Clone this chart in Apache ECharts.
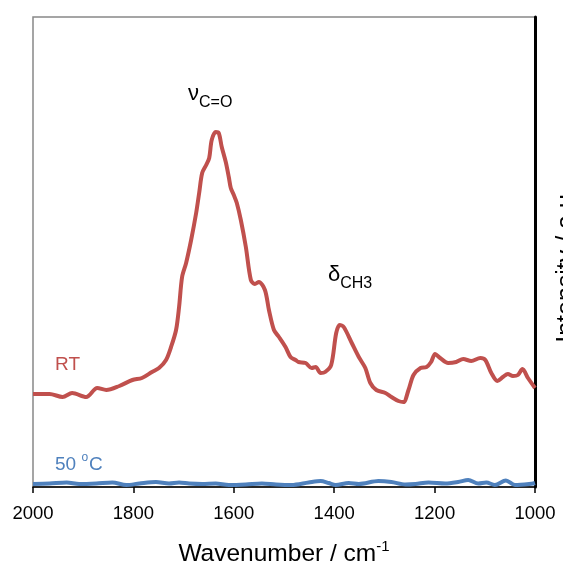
<!DOCTYPE html>
<html>
<head>
<meta charset="utf-8">
<script src="https://cdn.jsdelivr.net/npm/echarts@6/dist/echarts.min.js"></script>
<style>
  html, body { margin: 0; padding: 0; background: #fff; }
  #chart { width: 563px; height: 569px; }
</style>
</head>
<body>
<div id="chart"></div>
<script>
// RT spectrum (wavenumber / cm-1, intensity a.u.)
var rtWavenumber = [2000, 1967, 1941, 1922, 1894, 1872, 1854, 1828, 1802, 1783, 1763, 1749, 1735, 1725, 1715, 1709, 1703, 1695, 1685, 1675, 1669, 1663, 1655, 1649, 1644, 1636, 1630, 1624, 1616, 1610, 1606, 1600, 1594, 1586, 1576, 1566, 1558, 1550, 1538, 1530, 1520, 1510, 1497, 1487, 1477, 1471, 1457, 1445, 1437, 1427, 1418, 1406, 1396, 1389, 1381, 1365, 1351, 1338, 1328, 1316, 1298, 1286, 1272, 1262, 1252, 1242, 1228, 1216, 1207, 1199, 1189, 1173, 1157, 1143, 1127, 1109, 1099, 1087, 1075, 1064, 1054, 1044, 1034, 1025, 1014, 1000];
var rtIntensity = [93, 93, 90, 94, 90, 99, 97, 101, 107, 109, 115, 119, 127, 140, 157, 180, 210, 224, 247, 274, 294, 314, 322, 329, 347, 355, 354, 340, 325, 310, 299, 292, 284, 267, 240, 207, 203, 205, 197, 177, 157, 150, 140, 130, 127, 125, 124, 119, 120, 114, 115, 122, 154, 162, 160, 144, 130, 119, 104, 97, 94, 90, 86, 85, 97, 112, 119, 120, 125, 133, 129, 124, 125, 128, 126, 129, 127, 114, 106, 110, 113, 111, 112, 118, 109, 99];

// 50 oC spectrum
var hotWavenumber = [2000, 1967, 1933, 1908, 1874, 1842, 1814, 1788, 1755, 1729, 1709, 1689, 1663, 1636, 1610, 1576, 1544, 1516, 1485, 1451, 1427, 1411, 1397, 1371, 1351, 1312, 1286, 1258, 1238, 1212, 1179, 1153, 1133, 1113, 1097, 1080, 1058, 1040, 1004, 1000];
var hotIntensity = [3, 3.5, 4.5, 3, 3.5, 4.5, 2, 3.5, 5, 3.5, 4.5, 3.5, 3, 3.5, 2, 2.5, 3.5, 2.5, 2, 4.5, 6, 4, 2, 4, 3, 6, 5, 2.5, 3, 4.5, 3.5, 5, 7, 3.5, 4.5, 2, 6.5, 2, 3.5, 4];

var xTicks = [1000, 2000, 200];

function zip(xs, ys) {
  var out = [];
  for (var i = 0; i < xs.length; i++) out.push([xs[i], ys[i]]);
  return out;
}

var red = '#c0504d';
var blue = '#4f81bd';
var font = 'Liberation Sans';

var chart = echarts.init(document.getElementById('chart'));
var option = {
  animation: false,
  textStyle: { fontFamily: font },
  grid: {
    left: 33, right: 28, top: 17, bottom: 82,
    outerBoundsMode: 'none',
    show: true, borderColor: '#888', borderWidth: 1.5
  },
  xAxis: {
    type: 'value',
    min: xTicks[0], max: xTicks[1], interval: xTicks[2],
    inverse: true,
    axisLine: { lineStyle: { color: '#000', width: 1.5 } },
    axisTick: { show: true, length: 6, lineStyle: { color: '#000', width: 1.5 } },
    axisLabel: {
      color: '#000', fontSize: 18.5, margin: 17, fontFamily: font,
      formatter: function (v) { return String(v); }
    },
    splitLine: { show: false },
    name: '{t|Wavenumber / cm}{s|-1}',
    nameLocation: 'middle',
    nameGap: 52,
    nameTextStyle: {
      rich: {
        t: { fontSize: 24.5, color: '#000', fontFamily: font, lineHeight: 28, verticalAlign: 'bottom' },
        s: { fontSize: 15, color: '#000', fontFamily: font, lineHeight: 28, verticalAlign: 'top', padding: [0, 0, 10, 0] }
      }
    }
  },
  yAxis: {
    type: 'value',
    min: 0, max: 470,
    position: 'right',
    axisLine: { show: true, lineStyle: { color: '#000', width: 3 } },
    axisTick: { show: false },
    axisLabel: { show: false },
    splitLine: { show: false }
  },
  graphic: [
    {
      type: 'text', x: 567, y: 265, rotation: Math.PI / 2,
      style: { text: 'Intensity / a.u.', font: '25px "Liberation Sans"', fill: '#000', align: 'center', verticalAlign: 'middle' }
    },
    {
      type: 'text', x: 188, y: 83,
      style: {
        text: '{a|ν}{b|C=O}',
        rich: {
          a: { fontSize: 22, fontFamily: font, fill: '#000', lineHeight: 28, verticalAlign: 'top' },
          b: { fontSize: 16, fontFamily: font, fill: '#000', lineHeight: 28, verticalAlign: 'bottom', padding: [10, 0, 0, 0] }
        }
      }
    },
    {
      type: 'text', x: 328, y: 264,
      style: {
        text: '{a|δ}{b|CH3}',
        rich: {
          a: { fontSize: 22, fontFamily: font, fill: '#000', lineHeight: 28, verticalAlign: 'top' },
          b: { fontSize: 16, fontFamily: font, fill: '#000', lineHeight: 28, verticalAlign: 'bottom', padding: [10, 0, 0, 0] }
        }
      }
    },
    {
      type: 'text', x: 55, y: 355,
      style: { text: 'RT', font: '19px "Liberation Sans"', fill: red }
    },
    {
      type: 'text', x: 55, y: 452,
      style: {
        text: '{a|50 }{b|o}{a|C}',
        rich: {
          a: { fontSize: 19, fontFamily: font, fill: blue, lineHeight: 22, verticalAlign: 'bottom' },
          b: { fontSize: 12, fontFamily: font, fill: blue, lineHeight: 22, verticalAlign: 'top', padding: [0, 1, 8, 0] }
        }
      }
    }
  ],
  series: [
    {
      name: 'RT', type: 'line', data: zip(rtWavenumber, rtIntensity),
      showSymbol: false, smooth: 0.3,
      lineStyle: { color: red, width: 4 }, z: 3
    },
    {
      name: '50 oC', type: 'line', data: zip(hotWavenumber, hotIntensity),
      showSymbol: false, smooth: 0.3,
      lineStyle: { color: blue, width: 4 }, z: 2
    }
  ]
};
chart.setOption(option);
</script>
</body>
</html>
